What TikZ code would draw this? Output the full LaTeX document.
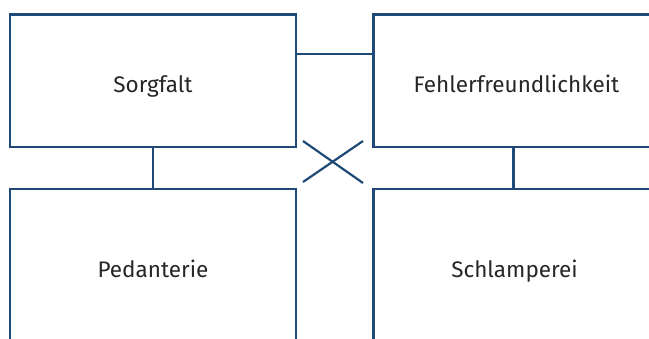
\documentclass[tikz,border=0pt]{standalone}
\usepackage{fontspec}
\setmainfont{Fira Sans}
\definecolor{frame}{RGB}{31,74,120}
\definecolor{ink}{RGB}{38,38,38}
\tikzset{
  field/.style={draw=frame, line width=2.5pt, minimum width=286pt, inner sep=0pt},
  caption/.style={anchor=base, text=ink, inner sep=0pt,
    font=\fontsize{22.5}{26}\selectfont},
  link/.style={draw=frame, line width=2.5pt}
}
\begin{document}
\begin{tikzpicture}[x=1pt,y=-1pt]
  \useasboundingbox (0,0) rectangle (649,338);
  \clip (0,0) rectangle (649,338);
  % the four fields
  \node[field, minimum height=132.5pt] (sorg) at (153,80.75) {};
  \node[field, minimum height=132.5pt] (fehl) at (516.5,80.75) {};
  \node[field, minimum height=162pt] (ped) at (153,270) {};
  \node[field, minimum height=162pt] (schl) at (516.5,270) {};
  % their captions, set on a common baseline
  \node[caption] (sorgT) at ([yshift=-12pt]sorg.center) {Sorgfalt};
  \node[caption] (fehlT) at ([yshift=-12pt]fehl.center) {Fehlerfreundlichkeit};
  \node[caption] (pedT) at ([yshift=-7.7pt]ped.center) {Pedanterie};
  \node[caption] (schlT) at ([yshift=-7.7pt, xshift=-2pt]schl.center) {Schlamperei};
  % links between the fields
  \coordinate (h) at (0,54);
  \coordinate (v) at (513.5,0);
  \draw[link] (sorg.east |- h) -- (fehl.west |- h);
  \draw[link] (sorg.south) -- (ped.north);
  \draw[link] (v |- fehl.south) -- (v |- schl.north);
  % cross in the middle
  \coordinate (xa) at (303,141);
  \coordinate (xb) at (363,183);
  \coordinate (xc) at (303,182);
  \coordinate (xd) at (363,141);
  \draw[link, line width=2.2pt] (xa) -- (xb);
  \draw[link, line width=2.2pt] (xc) -- (xd);
\end{tikzpicture}
\end{document}
